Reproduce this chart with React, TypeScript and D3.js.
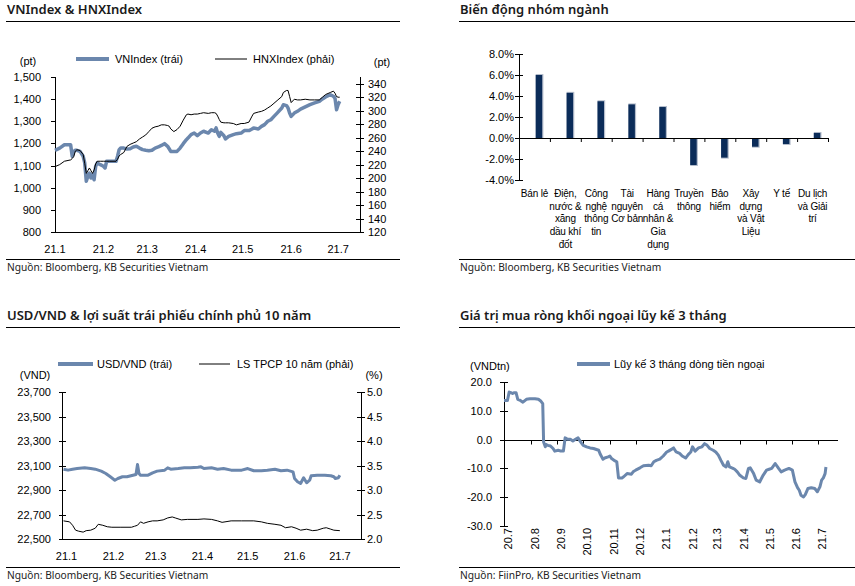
import React from 'react';
import * as d3 from 'd3';

// ---------- Panel 1: VNIndex & HNXIndex ----------
const vnDates = ["2021-01-01","2021-01-04","2021-01-07","2021-01-11","2021-01-12","2021-01-13","2021-01-14","2021-01-15","2021-01-17","2021-01-19","2021-01-20","2021-01-21","2021-01-22","2021-01-23","2021-01-24","2021-01-25","2021-01-26","2021-01-27","2021-01-28","2021-01-30","2021-02-01","2021-02-02","2021-02-03","2021-02-05","2021-02-09","2021-02-10","2021-02-11","2021-02-12","2021-02-14","2021-02-16","2021-02-18","2021-02-20","2021-02-22","2021-02-24","2021-02-26","2021-02-28","2021-03-02","2021-03-04","2021-03-06","2021-03-08","2021-03-10","2021-03-12","2021-03-14","2021-03-15","2021-03-16","2021-03-18","2021-03-20","2021-03-22","2021-03-24","2021-03-26","2021-03-27","2021-03-29","2021-03-31","2021-04-02","2021-04-04","2021-04-06","2021-04-09","2021-04-11","2021-04-13","2021-04-14","2021-04-15","2021-04-16","2021-04-17","2021-04-19","2021-04-20","2021-04-22","2021-04-25","2021-04-27","2021-04-30","2021-05-02","2021-05-05","2021-05-07","2021-05-08","2021-05-11","2021-05-13","2021-05-15","2021-05-17","2021-05-19","2021-05-21","2021-05-23","2021-05-26","2021-05-27","2021-05-29","2021-05-30","2021-05-31","2021-06-01","2021-06-03","2021-06-05","2021-06-07","2021-06-10","2021-06-13","2021-06-16","2021-06-19","2021-06-21","2021-06-23","2021-06-26","2021-06-28","2021-06-29","2021-06-30","2021-07-01","2021-07-02"];
const vnIndex = [1169,1179,1194,1194,1142,1164,1169,1169,1164,1142,1112,1029,1051,1066,1044,1059,1036,1097,1112,1104,1097,1089,1119,1119,1119,1142,1172,1179,1179,1175,1176,1184,1187,1179,1172,1169,1167,1169,1179,1184,1191,1199,1187,1176,1164,1164,1164,1179,1199,1217,1224,1240,1247,1235,1247,1255,1247,1262,1255,1270,1247,1232,1250,1235,1220,1232,1240,1244,1247,1258,1258,1265,1270,1265,1277,1285,1300,1307,1322,1337,1360,1375,1371,1360,1337,1322,1337,1345,1355,1365,1375,1383,1390,1401,1410,1420,1413,1405,1352,1375,1390];
const hnxIndex = [217,220,225,227,229,232,240,242,241,235,222,207,211,215,211,207,212,221,225,225,225,225,225,225,225,228,233,235,238,247,250,252,254,258,261,264,269,274,276,277,279,279,278,277,273,269,272,277,286,294,295,294,295,295,296,297,296,297,297,296,292,287,283,282,282,282,281,279,281,281,283,292,296,298,299,301,304,307,311,315,321,327,330,330,321,312,317,316,316,317,316,316,316,320,324,327,329,326,321,320,320];
const vnTicks = [800,900,1000,1100,1200,1300,1400,1500];
const hnxTicks = [120,140,160,180,200,220,240,260,280,300,320,340];

// ---------- Panel 2: sector performance ----------
const sectorLabels = [
  ["Bán lẻ"],
  ["Điện,","nước &","xăng","dầu khí","đốt"],
  ["Công","nghệ","thông","tin"],
  ["Tài","nguyên","Cơ bản"],
  ["Hàng","cá","nhân &","Gia","dụng"],
  ["Truyền","thông"],
  ["Bảo","hiểm"],
  ["Xây","dựng","và Vật","Liệu"],
  ["Y tế"],
  ["Du lịch","và Giải","trí"],
];
const sectorChange = [6.0,4.3,3.5,3.2,2.95,-2.57,-1.87,-0.83,-0.57,0.48];
const sectorTicks = [-4,-2,0,2,4,6,8];

// ---------- Panel 3: USD/VND & 10Y yield ----------
const usdDates = ["2020-12-30","2021-01-02","2021-01-05","2021-01-08","2021-01-13","2021-01-17","2021-01-20","2021-01-24","2021-01-27","2021-01-30","2021-02-02","2021-02-04","2021-02-07","2021-02-10","2021-02-14","2021-02-16","2021-02-17","2021-02-18","2021-02-19","2021-02-24","2021-02-27","2021-03-02","2021-03-07","2021-03-09","2021-03-11","2021-03-16","2021-03-20","2021-03-24","2021-03-29","2021-03-31","2021-04-02","2021-04-07","2021-04-11","2021-04-15","2021-04-20","2021-04-27","2021-05-01","2021-05-05","2021-05-10","2021-05-14","2021-05-19","2021-05-23","2021-05-27","2021-05-31","2021-06-01","2021-06-03","2021-06-05","2021-06-07","2021-06-09","2021-06-11","2021-06-12","2021-06-16","2021-06-21","2021-06-25","2021-06-27","2021-06-28","2021-06-30","2021-07-01"];
const usdVnd = [23070,23062,23070,23075,23081,23075,23070,23054,23035,23008,22980,22994,23008,23008,23021,23027,23108,23035,23021,23021,23040,23054,23062,23081,23070,23075,23081,23081,23086,23089,23075,23081,23070,23075,23062,23062,23075,23057,23057,23062,23070,23057,23062,23048,22994,22967,22953,23000,22959,22980,23016,23021,23021,23016,23008,22994,23000,23021];
const yieldDates = ["2020-12-30","2021-01-03","2021-01-05","2021-01-07","2021-01-09","2021-01-12","2021-01-14","2021-01-17","2021-01-20","2021-01-22","2021-01-25","2021-01-28","2021-01-31","2021-02-06","2021-02-13","2021-02-15","2021-02-17","2021-02-19","2021-02-21","2021-02-24","2021-02-27","2021-03-02","2021-03-06","2021-03-09","2021-03-12","2021-03-14","2021-03-18","2021-03-22","2021-03-29","2021-04-02","2021-04-07","2021-04-11","2021-04-14","2021-04-20","2021-04-27","2021-05-05","2021-05-10","2021-05-14","2021-05-19","2021-05-23","2021-05-26","2021-05-30","2021-06-02","2021-06-05","2021-06-09","2021-06-13","2021-06-16","2021-06-20","2021-06-22","2021-06-25","2021-06-27","2021-07-01"];
const bondYield10y = [2.37,2.35,2.28,2.18,2.16,2.14,2.17,2.18,2.22,2.30,2.28,2.25,2.24,2.24,2.24,2.26,2.28,2.35,2.32,2.35,2.37,2.37,2.39,2.43,2.45,2.43,2.39,2.40,2.40,2.41,2.40,2.37,2.34,2.37,2.37,2.37,2.35,2.32,2.30,2.28,2.23,2.25,2.22,2.18,2.20,2.17,2.18,2.22,2.23,2.20,2.18,2.17];
const usdTicks = [22500,22700,22900,23100,23300,23500,23700];
const yieldTicks = [2.0,2.5,3.0,3.5,4.0,4.5,5.0];

// ---------- Panel 4: foreign net buying, 3M cumulative ----------
const flowDates = ["2020-07-01","2020-07-05","2020-07-07","2020-07-09","2020-07-11","2020-07-13","2020-07-15","2020-07-17","2020-07-20","2020-07-23","2020-07-27","2020-07-31","2020-08-06","2020-08-10","2020-08-13","2020-08-15","2020-08-16","2020-08-18","2020-08-19","2020-08-21","2020-08-24","2020-08-27","2020-08-29","2020-09-02","2020-09-05","2020-09-08","2020-09-10","2020-09-13","2020-09-16","2020-09-19","2020-09-23","2020-09-25","2020-09-28","2020-10-01","2020-10-05","2020-10-09","2020-10-13","2020-10-19","2020-10-21","2020-10-24","2020-10-26","2020-10-30","2020-11-01","2020-11-03","2020-11-07","2020-11-09","2020-11-11","2020-11-15","2020-11-17","2020-11-21","2020-11-26","2020-11-28","2020-12-01","2020-12-06","2020-12-10","2020-12-16","2020-12-19","2020-12-22","2020-12-25","2020-12-29","2021-01-02","2021-01-06","2021-01-08","2021-01-12","2021-01-14","2021-01-17","2021-01-21","2021-01-24","2021-01-28","2021-01-31","2021-02-03","2021-02-05","2021-02-08","2021-02-12","2021-02-16","2021-02-19","2021-02-22","2021-02-25","2021-03-01","2021-03-04","2021-03-07","2021-03-10","2021-03-13","2021-03-16","2021-03-18","2021-03-20","2021-03-24","2021-03-26","2021-03-29","2021-04-01","2021-04-05","2021-04-08","2021-04-11","2021-04-13","2021-04-17","2021-04-20","2021-04-24","2021-04-28","2021-05-02","2021-05-05","2021-05-08","2021-05-12","2021-05-16","2021-05-19","2021-05-23","2021-05-28","2021-06-01","2021-06-04","2021-06-07","2021-06-09","2021-06-11","2021-06-14","2021-06-16","2021-06-19","2021-06-23","2021-06-27","2021-06-30","2021-07-03","2021-07-05","2021-07-07","2021-07-09","2021-07-10"];
const foreignFlow3m = [13.6,13.6,16.5,16.3,16.0,16.3,16.3,14.0,13.6,13.0,14.0,14.2,14.2,14.0,13.3,12.5,-0.8,-2.5,-1.7,-2.0,-2.2,-3.1,-4.0,-3.7,-4.0,-4.0,0.6,0.1,0.1,-0.5,0.3,0.6,-0.8,-2.0,-2.5,-2.9,-3.1,-3.7,-5.2,-6.8,-6.4,-6.0,-5.7,-6.6,-7.4,-7.7,-13.3,-13.3,-12.9,-11.8,-12.0,-11.2,-10.6,-9.8,-9.1,-8.9,-9.1,-7.7,-7.2,-6.8,-5.7,-4.3,-4.0,-3.3,-2.9,-4.3,-4.8,-5.7,-6.4,-5.2,-4.3,-2.5,-4.0,-2.9,-2.5,-1.4,-2.0,-3.1,-3.7,-4.3,-5.4,-7.2,-8.9,-9.5,-7.7,-9.5,-10.0,-10.3,-11.2,-12.4,-13.3,-13.5,-10.0,-9.8,-11.8,-14.1,-14.7,-12.4,-10.6,-10.3,-10.0,-8.3,-10.0,-11.2,-10.6,-10.0,-10.6,-14.7,-16.7,-17.6,-19.3,-19.9,-19.1,-17.0,-16.7,-17.0,-18.1,-16.4,-14.1,-13.3,-11.8,-9.5];
const flowTicks = [-30,-20,-10,0,10,20];

const BLUE = '#6b87ad';
const NAVY = '#0b2c59';
const FONT = "'Liberation Sans', Arial, sans-serif";
const TFONT = "'Noto Sans', 'Liberation Sans', sans-serif";
const parse = d3.timeParse('%Y-%m-%d');
const monthFmt = d3.timeFormat('%y.%-m');

function Title({ x, x2, y, title }: { x: number; x2: number; y: number; title: string }) {
  return (
    <g>
      <text x={x + 1} y={y} fontFamily={TFONT} fontWeight={600} fontSize={13} fill="#1a1a1a">{title}</text>
      <line x1={x} x2={x2} y1={y + 7.5} y2={y + 7.5} stroke="#000" strokeWidth={1} />
    </g>
  );
}

function Source({ x, x2, y, text }: { x: number; x2: number; y: number; text: string }) {
  return (
    <g>
      <line x1={x} x2={x2} y1={y + 0.5} y2={y + 0.5} stroke="#000" strokeWidth={1} />
      <text x={x + 1} y={y + 12} fontFamily={TFONT} fontSize={10.2} fill="#222">{text}</text>
    </g>
  );
}

function Panel1() {
  const x = d3.scaleTime().domain([new Date(2021, 0, 1), new Date(2021, 6, 15)]).range([55, 360]);
  const yL = d3.scaleLinear().domain([800, 1500]).range([232, 77]);
  const yR = d3.scaleLinear().domain([120, 350]).range([232, 77]);
  const dates = vnDates.map((d) => parse(d) as Date);
  const lineL = d3.line<number>().x((_, i) => x(dates[i])).y((v) => yL(v));
  const lineR = d3.line<number>().x((_, i) => x(dates[i])).y((v) => yR(v));
  const months = d3.timeMonth.range(new Date(2021, 0, 1), new Date(2021, 6, 2));
  const fmt = d3.format(',');
  return (
    <g>
      <Title x={6} x2={400} y={14} title="VNIndex & HNXIndex" />
      <line x1={76} x2={109} y1={59} y2={59} stroke={BLUE} strokeWidth={4} />
      <text x={115} y={63} fontFamily={FONT} fontSize={11}>VNIndex (trái)</text>
      <line x1={215} x2={247} y1={59} y2={59} stroke="#000" strokeWidth={1} />
      <text x={253} y={63} fontFamily={FONT} fontSize={11}>HNXIndex (phải)</text>
      <text x={28} y={65} textAnchor="middle" fontFamily={FONT} fontSize={11}>(pt)</text>
      <text x={382} y={66} textAnchor="middle" fontFamily={FONT} fontSize={11}>(pt)</text>
      <line x1={55.5} x2={55.5} y1={77} y2={232} stroke="#000" />
      <line x1={360.5} x2={360.5} y1={77} y2={232} stroke="#000" />
      <line x1={55} x2={361} y1={232.5} y2={232.5} stroke="#000" />
      {vnTicks.map((t) => (
        <g key={t}>
          <line x1={51} x2={55} y1={Math.round(yL(t)) + 0.5} y2={Math.round(yL(t)) + 0.5} stroke="#000" />
          <text x={41} y={yL(t) + 4} textAnchor="end" fontFamily={FONT} fontSize={11}>{fmt(t)}</text>
        </g>
      ))}
      {hnxTicks.map((t) => (
        <g key={t}>
          <line x1={356} x2={364} y1={Math.round(yR(t)) + 0.5} y2={Math.round(yR(t)) + 0.5} stroke="#000" />
          <text x={368} y={yR(t) + 4} fontFamily={FONT} fontSize={11}>{t}</text>
        </g>
      ))}
      {months.map((m) => (
        <text key={+m} x={x(m)} y={253} textAnchor="middle" fontFamily={FONT} fontSize={11}>{monthFmt(m)}</text>
      ))}
      <path d={lineL(vnIndex) || ''} fill="none" stroke={BLUE} strokeWidth={3.5} strokeLinejoin="round" />
      <path d={lineR(hnxIndex) || ''} fill="none" stroke="#000" strokeWidth={1} strokeLinejoin="round" />
      <Source x={6} x2={400} y={259} text="Nguồn: Bloomberg, KB Securities Vietnam" />
    </g>
  );
}

function Panel2() {
  const idx = sectorChange.map((_, i) => i);
  const x = d3.scaleBand<number>().domain(idx).range([519, 828]).padding(0);
  const y = d3.scaleLinear().domain([-4, 8]).range([180, 54]);
  const bw = 6.5;
  return (
    <g>
      <Title x={459} x2={855} y={14} title="Biến động nhóm ngành" />
      <line x1={519.5} x2={519.5} y1={54} y2={180} stroke="#000" />
      {sectorTicks.map((t) => (
        <g key={t}>
          <line x1={515} x2={523} y1={Math.round(y(t)) + 0.5} y2={Math.round(y(t)) + 0.5} stroke="#000" />
          <text x={514} y={y(t) + 4} textAnchor="end" fontFamily={FONT} fontSize={11}>{t.toFixed(1) + '%'}</text>
        </g>
      ))}
      {idx.map((i) => {
        const v = sectorChange[i];
        const cx = (x(i) as number) + x.bandwidth() / 2 + 4.5;
        const top = y(Math.max(0, v));
        const bot = y(Math.min(0, v));
        return (
          <g key={i}>
            <rect x={cx - bw / 2} y={v > 0 ? top - 1 : top} width={bw + 1.2} height={bot - top + 1} fill="#b3bccb" />
            <rect x={cx - bw / 2} y={top} width={bw} height={bot - top} fill={NAVY} />
          </g>
        );
      })}
      <line x1={519} x2={828} y1={Math.round(y(0)) + 0.5} y2={Math.round(y(0)) + 0.5} stroke="#000" />
      {idx.map((i) => (
        <line key={i} x1={(x(i) as number) + x.bandwidth() + 0.5} x2={(x(i) as number) + x.bandwidth() + 0.5} y1={y(0)} y2={y(0) + 4} stroke="#000" />
      ))}
      {sectorLabels.map((lines, i) => (
        <text key={i} x={(x(i) as number) + x.bandwidth() / 2} y={197} textAnchor="middle" fontFamily={FONT} fontSize={10} letterSpacing={-0.2}>
          {lines.map((l, j) => (
            <tspan key={j} x={(x(i) as number) + x.bandwidth() / 2} dy={j === 0 ? 0 : 12.7}>{l}</tspan>
          ))}
        </text>
      ))}
      <Source x={459} x2={855} y={259} text="Nguồn: Bloomberg, KB Securities Vietnam" />
    </g>
  );
}

function Panel3() {
  const x = d3.scaleTime().domain([new Date(2020, 11, 29), new Date(2021, 6, 15)]).range([62, 361]);
  const yL = d3.scaleLinear().domain([22500, 23700]).range([539, 392]);
  const yR = d3.scaleLinear().domain([2, 5]).range([539, 392]);
  const ud = usdDates.map((d) => parse(d) as Date);
  const yd = yieldDates.map((d) => parse(d) as Date);
  const lineL = d3.line<number>().x((_, i) => x(ud[i])).y((v) => yL(v));
  const lineR = d3.line<number>().x((_, i) => x(yd[i])).y((v) => yR(v));
  const months = d3.timeMonth.range(new Date(2021, 0, 1), new Date(2021, 6, 2));
  const fmt = d3.format(',');
  return (
    <g>
      <Title x={6} x2={400} y={320} title="USD/VND & lợi suất trái phiếu chính phủ 10 năm" />
      <line x1={58} x2={93} y1={364} y2={364} stroke={BLUE} strokeWidth={4} />
      <text x={97} y={368} fontFamily={FONT} fontSize={11}>USD/VND (trái)</text>
      <line x1={199} x2={230} y1={364} y2={364} stroke="#000" strokeWidth={1} />
      <text x={237} y={368} fontFamily={FONT} fontSize={11}>LS TPCP 10 năm (phải)</text>
      <text x={35} y={379} textAnchor="middle" fontFamily={FONT} fontSize={11}>(VND)</text>
      <text x={374} y={379} textAnchor="middle" fontFamily={FONT} fontSize={11}>(%)</text>
      <line x1={62.5} x2={62.5} y1={392} y2={539} stroke="#000" />
      <line x1={361.5} x2={361.5} y1={392} y2={539} stroke="#000" />
      <line x1={62} x2={362} y1={539.5} y2={539.5} stroke="#000" />
      {usdTicks.map((t) => (
        <g key={t}>
          <line x1={59} x2={66} y1={Math.round(yL(t)) + 0.5} y2={Math.round(yL(t)) + 0.5} stroke="#000" />
          <text x={51} y={yL(t) + 4} textAnchor="end" fontFamily={FONT} fontSize={11}>{fmt(t)}</text>
        </g>
      ))}
      {yieldTicks.map((t) => (
        <g key={t}>
          <line x1={357} x2={365} y1={Math.round(yR(t)) + 0.5} y2={Math.round(yR(t)) + 0.5} stroke="#000" />
          <text x={367} y={yR(t) + 4} fontFamily={FONT} fontSize={11}>{t.toFixed(1)}</text>
        </g>
      ))}
      {months.map((m) => (
        <text key={+m} x={x(m)} y={560} textAnchor="middle" fontFamily={FONT} fontSize={11}>{monthFmt(m)}</text>
      ))}
      <path d={lineL(usdVnd) || ''} fill="none" stroke={BLUE} strokeWidth={3} strokeLinejoin="round" />
      <path d={lineR(bondYield10y) || ''} fill="none" stroke="#000" strokeWidth={1} strokeLinejoin="round" />
      <Source x={6} x2={400} y={567} text="Nguồn: Bloomberg, KB Securities Vietnam" />
    </g>
  );
}

function Panel4() {
  const x = d3.scaleTime().domain([new Date(2020, 6, 1), new Date(2021, 6, 24)]).range([504, 838]);
  const y = d3.scaleLinear().domain([-30, 20]).range([526, 382]);
  const fd = flowDates.map((d) => parse(d) as Date);
  const line = d3.line<number>().x((_, i) => x(fd[i])).y((v) => y(v));
  const months = d3.timeMonth.range(new Date(2020, 6, 1), new Date(2021, 6, 2));
  const y0 = Math.round(y(0)) + 0.5;
  return (
    <g>
      <Title x={459} x2={855} y={320} title="Giá trị mua ròng khối ngoại lũy kế 3 tháng" />
      <line x1={577} x2={610} y1={364} y2={364} stroke={BLUE} strokeWidth={4} />
      <text x={614} y={368} fontFamily={FONT} fontSize={11}>Lũy kế 3 tháng dòng tiền ngoại</text>
      <text x={470} y={370} fontFamily={FONT} fontSize={11}>(VNDtn)</text>
      <line x1={504.5} x2={504.5} y1={382} y2={526} stroke="#000" />
      {flowTicks.map((t) => (
        <g key={t}>
          <line x1={500} x2={508} y1={Math.round(y(t)) + 0.5} y2={Math.round(y(t)) + 0.5} stroke="#000" />
          <text x={492} y={y(t) + 4} textAnchor="end" fontFamily={FONT} fontSize={11}>{t.toFixed(1)}</text>
        </g>
      ))}
      <line x1={504} x2={838} y1={y0} y2={y0} stroke="#000" />
      {months.slice(1).map((m) => (
        <line key={+m} x1={Math.round(x(m)) + 0.5} x2={Math.round(x(m)) + 0.5} y1={y0} y2={y0 + 4} stroke="#000" />
      ))}
      {months.map((m) => (
        <text key={+m} transform={`translate(${x(m) + 8},528) rotate(-90)`} textAnchor="end" fontFamily={FONT} fontSize={11}>{monthFmt(m)}</text>
      ))}
      <path d={line(foreignFlow3m) || ''} fill="none" stroke={BLUE} strokeWidth={3} strokeLinejoin="round" />
      <Source x={459} x2={855} y={567} text="Nguồn: FiinPro, KB Securities Vietnam" />
    </g>
  );
}

export default function App() {
  return (
    <svg width={855} height={586} viewBox="0 0 855 586" style={{ position: 'absolute', left: 0, top: 0, background: '#fff' }}>
      <rect width={855} height={586} fill="#fff" />
      <Panel1 />
      <Panel2 />
      <Panel3 />
      <Panel4 />
    </svg>
  );
}
